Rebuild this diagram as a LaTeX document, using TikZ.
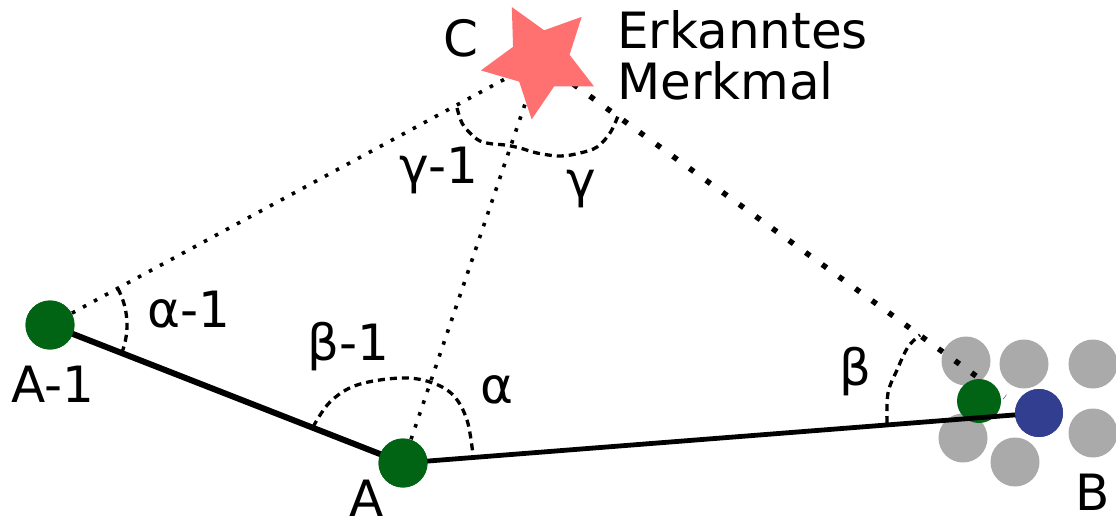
\documentclass[tikz,border=0pt]{standalone}
\usepackage{fontspec}
\setmainfont{DejaVu Sans}
\usetikzlibrary{shapes.geometric}
\definecolor{dgreen}{HTML}{006414}
\definecolor{dblue}{HTML}{323E8F}
\definecolor{lgray}{HTML}{A9AAA9}
\definecolor{starred}{HTML}{FF7070}
\tikzset{
  disc/.style={circle, inner sep=0pt, minimum size=#1, draw=none},
  gnode/.style={disc=49pt, fill=dgreen},
  graynode/.style={disc=49pt, fill=lgray},
  thindots/.style={line width=3.6pt, dash pattern=on 3.6pt off 8.9pt},
  thickdots/.style={line width=5.5pt, dash pattern=on 5.5pt off 15pt},
  anglearc/.style={line width=3.3pt, dash pattern=on 7pt off 5pt},
  lbl/.style={anchor=base west, inner sep=0pt, font=\fontsize{50}{60}\selectfont},
}
\begin{document}
\begin{tikzpicture}[x=1pt,y=-1pt]
\useasboundingbox (0,0) rectangle (1116,523);
% positions
\coordinate (Cc) at (540,60);
\coordinate (cb) at (1005,397);
\node[gnode] (A1) at (50,325) {};
\node[gnode] (A) at (403,463) {};
% dotted sight lines (under star)
\draw[thindots] (A1.center) -- (Cc);
\draw[thindots] (A.center) -- (Cc);
% gray cluster
\node[graynode] (g1) at (966,361) {};
\node[graynode] (g2) at (1024,364) {};
\node[graynode] (g3) at (1093,364) {};
\node[graynode] (g4) at (1093,433) {};
\node[graynode] (g5) at (963,438) {};
\node[graynode] (g6) at (1015,462) {};
\draw[thickdots] (Cc) -- (cb);
% star
\node[star, star points=5, star point ratio=2, minimum size=120pt, inner sep=0pt,
      fill=starred, draw=none, shape border rotate=28] (C) at (Cc) {};
% angle arcs
\draw[anglearc] (A1.center) ++(-28.4:77) arc[start angle=-28.4, end angle=21.4, radius=77];
\draw[anglearc] plot[smooth, tension=0.6] coordinates {(313,427) (330,402) (357,385) (400,378) (430,382) (453,395) (467,420) (473,455)};
\draw[anglearc] plot[smooth, tension=0.6] coordinates {(457,108) (462,123) (470,133) (480,141) (493,144) (505,145) (520,148) (537,153) (560,156) (580,153) (597,147) (610,133) (618,116)};
\draw[anglearc] plot[smooth, tension=0.6] coordinates {(887,423) (888,393) (897,370) (908,347) (920,335)};
% B cluster robot nodes
\node[disc=44pt, fill=dgreen] (Bg) at (979,401) {};
\node[disc=48pt, fill=dblue] (B) at (1039,413) {};
% trajectory
\draw[line width=6pt] (A1.center) -- (A.center);
\draw[line width=4.8pt] (A.center) -- (B.center);
\node[gnode] at (A1) {};
\node[gnode] at (A) {};
\node[disc=48pt, fill=dblue] at (B) {};
% labels
\node[lbl] (lC) at (443,56) {C};
\node[lbl] (l1) at (617,48) {Erkanntes};
\node[lbl] (l2) at (617,99) {Merkmal};
\node[lbl] (lg1) at (399,183) {γ-1};
\node[lbl] (lg) at (566,197) {γ};
\node[lbl] (la1) at (147,327) {α-1};
\node[lbl] (lb1) at (307,360) {β-1};
\node[lbl] (la) at (480,403) {α};
\node[lbl] (lA1) at (11,402) {A-1};
\node[lbl] (lA) at (349,516) {A};
\node[lbl] (lb) at (839,385) {β};
\node[lbl] (lB) at (1075,510) {B};
\end{tikzpicture}
\end{document}
